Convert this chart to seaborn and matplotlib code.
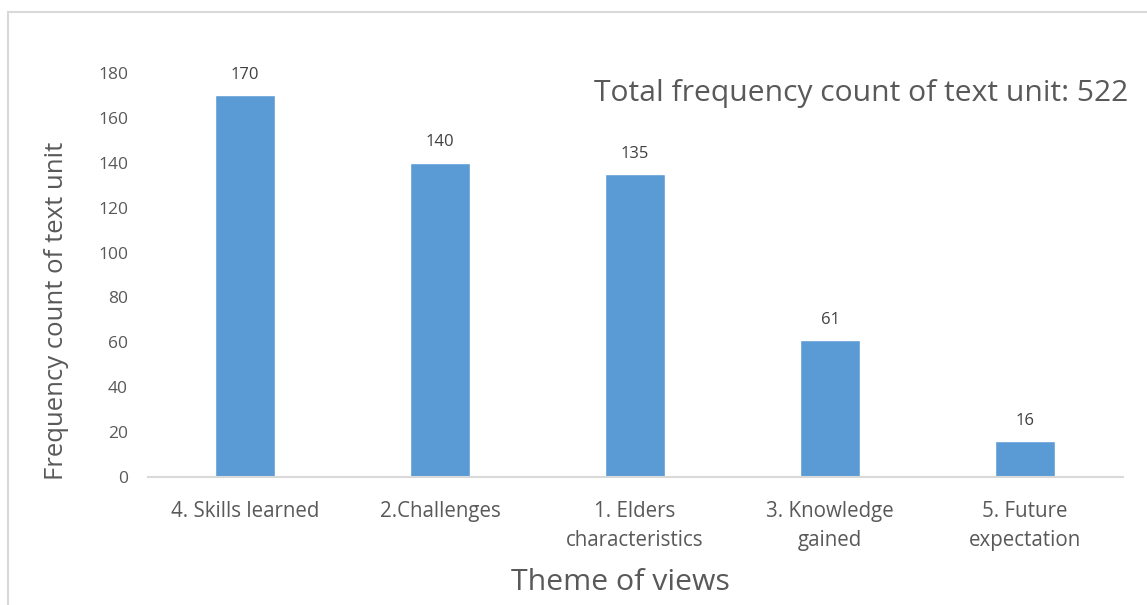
import matplotlib
matplotlib.use("Agg")
import matplotlib.pyplot as plt
import seaborn as sns
import pandas as pd
from matplotlib.patches import Rectangle

# --- data ---
themes = ["4. Skills learned", "2.Challenges", "1. Elders\ncharacteristics",
          "3. Knowledge\ngained", "5. Future\nexpectation"]
counts = [170, 140, 135, 61, 16]
total_count = 522
y_ticks = [0, 20, 40, 60, 80, 100, 120, 140, 160, 180]

BAR_COLOR = "#5B9BD5"
TEXT_GRAY = "#595959"

sns.set_theme(style="white")
plt.rcParams['font.family'] = ['Open Sans', 'DejaVu Sans']

df = pd.DataFrame({"theme": themes, "count": counts})

fig = plt.figure(figsize=(11.47, 6.05), dpi=100)
ax = fig.add_axes([147.5 / 1147, 1 - 477 / 605, 975 / 1147, 404 / 605])

sns.barplot(data=df, x="theme", y="count", color=BAR_COLOR, width=0.31,
            saturation=1, ax=ax)

ax.set_ylim(0, 180)
ax.set_yticks(y_ticks)
ax.tick_params(axis='y', labelsize=12.5, labelcolor=TEXT_GRAY, length=0, pad=14)
ax.tick_params(axis='x', labelsize=14.8, labelcolor=TEXT_GRAY, length=0, pad=17)
for lbl in ax.get_xticklabels():
    lbl.set_linespacing(1.55)

for sp in ["top", "right", "left"]:
    ax.spines[sp].set_visible(False)
ax.spines["bottom"].set_color("#D9D9D9")
ax.spines["bottom"].set_linewidth(1.5)

ax.bar_label(ax.containers[0], padding=9, fontsize=12, color="#404040")

ax.set_xlabel("Theme of views", fontsize=21.8, color=TEXT_GRAY, va="center")
ax.xaxis.set_label_coords(0.4846, -0.262)
ax.set_ylabel("Frequency count of text unit", fontsize=18.5, color=TEXT_GRAY)
ax.yaxis.set_label_coords(-0.08, 0.41)

fig.text(1128 / 1147, 1 - 93 / 605, f"Total frequency count of text unit: {total_count}",
         ha="right", va="center", fontsize=21.6, color=TEXT_GRAY)

# light chart-area frame
fig.patches.append(Rectangle((8 / 1147, -0.1), 1.2, 1 - 12 / 605 + 0.1,
                             transform=fig.transFigure, fill=False,
                             edgecolor="#D9D9D9", linewidth=1.5))

fig.savefig("out.png", dpi=100)
